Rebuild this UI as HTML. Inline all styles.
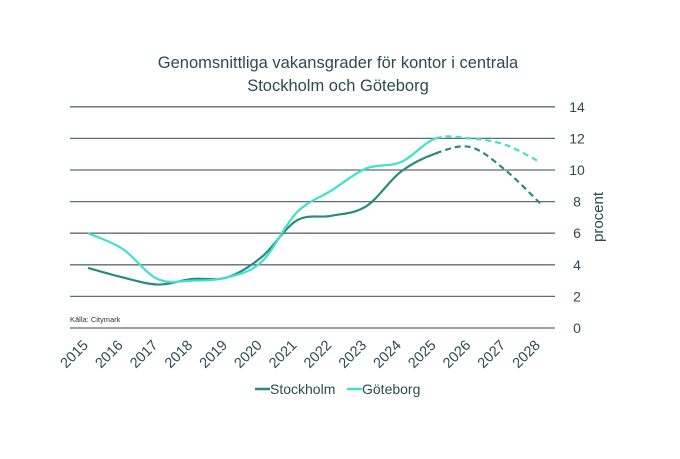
<!DOCTYPE html>
<html><head><meta charset="utf-8"><style>
body{margin:0;background:#fff;}
text{font-family:"Liberation Sans",sans-serif;}
</style></head><body>
<svg id="s" width="680" height="454" xmlns="http://www.w3.org/2000/svg">
<text x="338" y="68" font-size="16.5" fill="#2c4a54" text-anchor="middle">Genomsnittliga vakansgrader för kontor i centrala</text>
<text x="338" y="91" font-size="16.5" fill="#2c4a54" text-anchor="middle">Stockholm och Göteborg</text>
<g id="grid" stroke="#5d6e74" stroke-width="1.3"></g>
<g id="yl" font-size="14" fill="#2c4a54" text-anchor="middle"></g>
<text transform="translate(603,217) rotate(-90)" font-size="15" fill="#2c4a54" text-anchor="middle">procent</text>
<text x="70" y="322" font-size="7.5" fill="#333">Källa: Citymark</text>
<g id="xl" font-size="14.5" fill="#2c4a54"></g>
<g id="lines" fill="none" stroke-width="2.2"></g>
<line x1="255" y1="389" x2="270" y2="389" stroke="#2a8a80" stroke-width="2.5"/>
<text x="270" y="394" font-size="14" fill="#2c4a54">Stockholm</text>
<line x1="347" y1="389" x2="362" y2="389" stroke="#40e0d0" stroke-width="2.5"/>
<text x="362" y="394" font-size="14" fill="#2c4a54">Göteborg</text>
</svg>
<script>
var NS="http://www.w3.org/2000/svg";
function el(p,t,a,txt){var e=document.createElementNS(NS,t);for(var k in a)e.setAttribute(k,a[k]);if(txt!=null)e.textContent=txt;document.getElementById(p).appendChild(e);}
function Y(v){return 328-v*15.8;}
function X(i){return 88+i*34.77;}
for(var v=0;v<=14;v+=2){el("grid","line",{x1:70,x2:555,y1:Y(v),y2:Y(v)});el("yl","text",{x:577,y:Y(v)+5},v);}
for(var i=0;i<14;i++){var x=X(i)+1,y=346;el("xl","text",{x:x,y:y,"text-anchor":"end",transform:"rotate(-45 "+x+" "+y+")"},2015+i);}
var S=[3.8,3.2,2.75,3.1,3.2,4.5,6.8,7.1,7.7,9.9,11.05,11.45,10.0,7.9];
var G=[6.0,5.0,3.1,3.0,3.2,4.2,7.3,8.7,10.1,10.5,12.0,12.0,11.6,10.5];
function seg(d,a,b){var P=d.map(function(v,i){return[X(i),Y(v)]});
 var s="M"+P[a][0]+","+P[a][1];
 for(var i=a;i<b;i++){var p0=P[Math.max(i-1,0)],p1=P[i],p2=P[i+1],p3=P[Math.min(i+2,P.length-1)];
  s+=" C"+(p1[0]+(p2[0]-p0[0])/6)+","+(p1[1]+(p2[1]-p0[1])/6)+" "+(p2[0]-(p3[0]-p1[0])/6)+","+(p2[1]-(p3[1]-p1[1])/6)+" "+p2[0]+","+p2[1];}
 return s;}
el("lines","path",{d:seg(S,0,10),stroke:"#2a8a80"});
el("lines","path",{d:seg(S,10,13),stroke:"#2a8a80","stroke-dasharray":"6,4"});
el("lines","path",{d:seg(G,0,10),stroke:"#40e0d0"});
el("lines","path",{d:seg(G,10,13),stroke:"#40e0d0","stroke-dasharray":"6,4"});
</script>
</body></html>
